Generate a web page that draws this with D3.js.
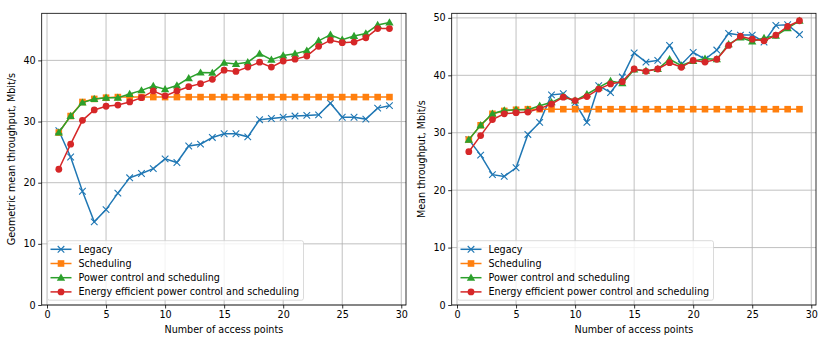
<!DOCTYPE html>
<html><head><meta charset="utf-8">
<script src="https://cdn.jsdelivr.net/npm/d3@7"></script>
<style>body{margin:0;background:#fff}svg{display:block;font-family:"DejaVu Sans",sans-serif}</style>
</head><body><svg id="c" width="830" height="346"></svg>
<script>
const apCounts = d3.range(1, 30);
const seriesNames = ["Legacy", "Scheduling", "Power control and scheduling", "Energy efficient power control and scheduling"];
const xTicks = [0, 5, 10, 15, 20, 25, 30];
const leftYTicks = [0, 10, 20, 30, 40];
const rightYTicks = [0, 10, 20, 30, 40, 50];

const geoLegacy = [28.5,24.2,18.6,13.6,15.6,18.3,20.8,21.5,22.3,23.9,23.3,26.0,26.3,27.4,28.0,28.0,27.5,30.3,30.5,30.7,30.9,31.0,31.1,33.0,30.7,30.7,30.4,32.2,32.6];
const geoSched = [28.2,30.9,33.2,33.7,33.9,34.0,34.0,34.0,34.0,34.0,34.0,34.0,34.0,34.0,34.0,34.0,34.0,34.0,34.0,34.0,34.0,34.0,34.0,34.0,34.0,34.0,34.0,34.0,34.0];
const geoPower = [28.2,30.9,33.1,33.7,33.9,33.9,34.5,35.1,35.8,35.3,35.9,37.1,38.0,37.96,39.6,39.4,39.7,41.1,40.1,40.8,41.1,41.6,43.2,44.2,43.4,44.0,44.4,45.8,46.2];
const geoEnergy = [22.2,26.3,30.2,31.9,32.5,32.7,33.2,33.9,35.0,34.2,35.0,35.7,36.2,36.9,38.4,38.2,38.9,39.7,38.9,39.9,40.2,40.7,42.3,43.3,42.9,43.0,43.7,45.2,45.2];

const meanLegacy = [28.8,26.1,22.7,22.4,23.9,29.7,31.8,36.6,36.8,35.2,31.8,38.2,37.0,39.7,43.9,42.3,42.6,45.2,41.9,44.0,42.8,44.4,47.3,47.0,47.0,45.8,48.7,48.8,47.1];
const meanSched = [28.8,31.3,33.3,33.8,34.0,34.1,34.1,34.1,34.1,34.1,34.1,34.1,34.1,34.1,34.1,34.1,34.1,34.1,34.1,34.1,34.1,34.1,34.1,34.1,34.1,34.1,34.1,34.1,34.1];
const meanPower = [28.8,31.3,33.3,33.9,34.0,34.0,34.7,35.3,36.3,35.6,36.7,37.9,39.0,38.6,41.0,40.8,41.1,42.8,41.7,42.5,42.9,42.8,45.4,46.6,45.9,46.5,46.9,48.2,49.5];
const meanEnergy = [26.7,29.5,32.3,33.3,33.5,33.6,34.2,35.0,36.2,35.6,36.3,37.6,38.5,38.9,41.1,40.7,41.1,42.2,41.4,42.6,42.3,42.8,45.2,46.8,46.3,46.0,47.0,48.5,49.5];

const colors = ["#1f77b4", "#ff7f0e", "#2ca02c", "#d62728"];
const markers = ["x", "square", "triangle", "circle"];
const svg = d3.select("#c");
const FS = 9.6;

function drawMarker(g, type, color, x, y) {
  if (type === "x") {
    const s = 3.3;
    g.append("path").attr("d", `M${x-s},${y-s}L${x+s},${y+s}M${x-s},${y+s}L${x+s},${y-s}`)
      .attr("stroke", color).attr("stroke-width", 1.1).attr("fill", "none");
  } else if (type === "square") {
    g.append("rect").attr("x", x-3.3).attr("y", y-3.3).attr("width", 6.6).attr("height", 6.6).attr("fill", color);
  } else if (type === "triangle") {
    g.append("path").attr("d", d3.symbol().type(d3.symbolTriangle).size(30)()).attr("transform", `translate(${x},${y+0.6})`).attr("fill", color);
  } else {
    g.append("circle").attr("cx", x).attr("cy", y).attr("r", 3.4).attr("fill", color);
  }
}

function panel(offset, series, yMax, yTicks, ylabel) {
  const left = 41.7 + offset, right = 406 + offset, top = 13.3, bottom = 305;
  const x = d3.scaleLinear().domain([-0.45, 30.4]).range([left, right]);
  const y = d3.scaleLinear().domain([0, yMax]).range([bottom, top]);
  const g = svg.append("g");
  g.selectAll(".gx").data(xTicks).join("line").attr("x1", d => x(d)).attr("x2", d => x(d)).attr("y1", top).attr("y2", bottom)
    .attr("stroke", "#b0b0b0").attr("stroke-width", 0.8);
  g.selectAll(".gy").data(yTicks).join("line").attr("y1", d => y(d)).attr("y2", d => y(d)).attr("x1", left).attr("x2", right)
    .attr("stroke", "#b0b0b0").attr("stroke-width", 0.8);
  const clip = "clip" + offset;
  svg.append("clipPath").attr("id", clip).append("rect").attr("x", left).attr("y", top).attr("width", right-left).attr("height", bottom-top);
  const pg = g.append("g").attr("clip-path", `url(#${clip})`);
  series.forEach((vals, i) => {
    const line = d3.line().x((d, j) => x(apCounts[j])).y(d => y(d));
    pg.append("path").datum(vals).attr("d", line).attr("fill", "none").attr("stroke", colors[i]).attr("stroke-width", 1.5);
    vals.forEach((v, j) => drawMarker(pg, markers[i], colors[i], x(apCounts[j]), y(v)));
  });
  const xa = g.append("g").attr("transform", `translate(0,${bottom})`).call(d3.axisBottom(x).tickValues(xTicks).tickSize(3.5).tickPadding(2.5));
  const ya = g.append("g").attr("transform", `translate(${left},0)`).call(d3.axisLeft(y).tickValues(yTicks).tickSize(3.5).tickPadding(2.5));
  [xa, ya].forEach(a => { a.select(".domain").remove(); a.selectAll("text").attr("font-size", FS).attr("font-family", "DejaVu Sans").attr("fill", "#000"); a.selectAll("line").attr("stroke", "#000").attr("stroke-width", 0.8); });
  g.append("rect").attr("x", left).attr("y", top).attr("width", right-left).attr("height", bottom-top).attr("fill", "none").attr("stroke", "#000").attr("stroke-width", 0.8);
  g.append("text").attr("x", (left+right)/2).attr("y", 333).attr("text-anchor", "middle").attr("font-size", FS).text("Number of access points");
  g.append("text").attr("transform", `translate(${offset+15},${(top+bottom)/2}) rotate(-90)`).attr("text-anchor", "middle").attr("font-size", FS).text(ylabel);
  const lg = g.append("g");
  lg.append("rect").attr("x", 47.5+offset).attr("y", 240.7).attr("width", 256).attr("height", 59.5).attr("rx", 2)
    .attr("fill", "#fff").attr("fill-opacity", 0.8).attr("stroke", "#d0d0d0").attr("stroke-width", 0.8);
  seriesNames.forEach((name, i) => {
    const yy = 249.3 + i * 14.2;
    lg.append("line").attr("x1", 50.5+offset).attr("x2", 71.5+offset).attr("y1", yy).attr("y2", yy).attr("stroke", colors[i]).attr("stroke-width", 1.5);
    drawMarker(lg, markers[i], colors[i], 61+offset, yy);
    lg.append("text").attr("x", 78.5+offset).attr("y", yy).attr("dy", "0.35em").attr("font-size", FS).text(name);
  });
}

panel(0, [geoLegacy, geoSched, geoPower, geoEnergy], 47.7, leftYTicks, "Geometric mean throughput, Mbit/s");
panel(410, [meanLegacy, meanSched, meanPower, meanEnergy], 50.8, rightYTicks, "Mean throughput, Mbit/s");
</script></body></html>
